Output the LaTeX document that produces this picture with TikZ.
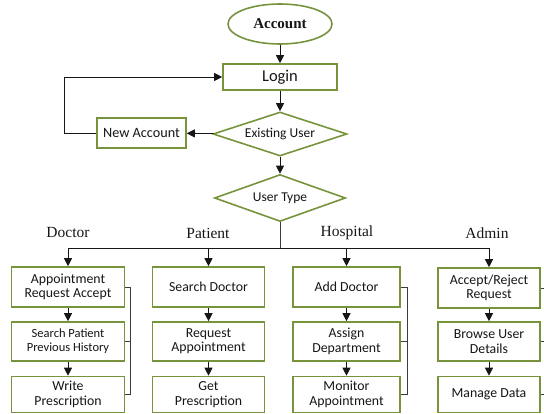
\documentclass[tikz,border=0pt]{standalone}
\usepackage{fontspec}
\setmainfont{Carlito}
\newfontfamily\serifface{Liberation Serif}
\usetikzlibrary{shapes.geometric,arrows.meta}
\definecolor{boxgreen}{RGB}{119,147,60}
\definecolor{inkgray}{RGB}{22,22,22}
\definecolor{wiregray}{RGB}{60,60,60}
\begin{document}
\begin{tikzpicture}[x=1pt,y=-1pt,
  font=\fontsize{13.8}{14.3}\selectfont, text=inkgray,
  box/.style={draw=boxgreen, line width=1.6pt, fill=white, rectangle,
    inner sep=1pt, align=center},
  decision/.style={draw=boxgreen, line width=1.6pt, fill=white, diamond,
    aspect=3, inner sep=0pt, align=center},
  flow/.style={draw=inkgray, line width=0.8pt,
    -{Triangle[length=8pt,width=8pt]}},
  wire/.style={draw=wiregray, line width=0.7pt},
  rolename/.style={font=\serifface\fontsize{15.5}{17}\selectfont, text=inkgray},
  col/.style={box, minimum width=#1},
  rowA/.style={minimum height=40pt},
  rowB/.style={minimum height=39pt},
  rowC/.style={minimum height=36pt}]
\useasboundingbox (0,0) rectangle (544,414);

% top of the flow: account, login and the two decisions
\node[ellipse, draw=boxgreen, line width=1.6pt, minimum width=104pt,
  minimum height=40pt, inner sep=0pt,
  font=\serifface\bfseries\fontsize{15}{17}\selectfont] (acc) at (280,24) {Account};
\node[box, minimum width=114pt, minimum height=26pt,
  font=\fontsize{16.5}{18}\selectfont] (login) at (280,77) {Login};
\node[decision, minimum width=134pt, minimum height=44pt,
  font=\fontsize{13.5}{15}\selectfont] (exist) at (280,134) {Existing User};
\node[box, minimum width=89pt, minimum height=30pt,
  font=\fontsize{14.2}{15}\selectfont] (newacc) at (141.5,133) {New Account};
\node[decision, minimum width=131pt, minimum height=47pt,
  font=\fontsize{13.5}{15}\selectfont] (ut) at (280,198) {User Type};

\draw[flow] (acc) -- (login);
\draw[flow] (login) -- (exist);
\draw[flow] (exist) -- (newacc);
\draw[flow] (newacc.west) -- ++(-32,0) |- (login.west);
\draw[flow] (exist) -- (ut);

% role captions
\node[rolename] (ldoc) at (68,233) {Doctor};
\node[rolename] (lpat) at (208,233) {Patient};
\node[rolename] (lhos) at (347,233) {Hospital};
\node[rolename] (ladm) at (487,233) {Admin};

% doctor column
\node[col=113pt, rowA] (d1) at (68,287) {Appointment\\Request Accept};
\node[col=113pt, rowB, font=\fontsize{12.5}{14}\selectfont] (d2) at (68,341.5) {Search Patient\\Previous History};
\node[col=113pt, rowC] (d3) at (68,394.5) {Write\\Prescription};
% patient column
\node[col=112pt, rowA] (p1) at (208.5,287) {Search Doctor};
\node[col=112pt, rowB] (p2) at (208.5,341.5) {Request\\Appointment};
\node[col=112pt, rowC] (p3) at (208.5,394.5) {Get\\Prescription};
% hospital column
\node[col=107pt, rowA] (h1) at (346.5,287) {Add Doctor};
\node[col=107pt, rowB] (h2) at (346.5,341.5) {Assign\\Department};
\node[col=107pt, rowC] (h3) at (346.5,394.5) {Monitor\\Appointment};
% admin column
\node[col=102pt, rowA] (a1) at (489,288) {Accept/Reject\\Request};
\node[col=102pt, rowB] (a2) at (489,341.5) {Browse User\\Details};
\node[col=102pt, rowC] (a3) at (489,394.5) {Manage Data};

% fan-out from the user type decision
\path (ut.south) ++(0,26) coordinate (hub);
\draw[wire] (ut.south) -- (hub);
\draw[flow] (hub) -| (d1.north);
\draw[flow] (hub) -| (a1.north);
\draw[flow] (hub -| p1.north) -- (p1.north);
\draw[flow] (hub -| h1.north) -- (h1.north);

% arrows inside the columns
\foreach \c in {d,p,h,a}{
  \draw[flow] (\c1) -- (\c2);
  \draw[flow] (\c2) -- (\c3);
}

% side brackets
\draw[wire] (d1.east) -- ++(5,0) |- (d3.east);
\draw[wire] (d2.east) -- ++(5,0);
\draw[wire] (h1.east) -- ++(7,0) |- (h3.east);
\draw[wire] (h2.east) -- ++(7,0);
\foreach \k in {1,2,3}{
  \draw[wire] (a\k.east) -- ++(6,0);
}
\end{tikzpicture}
\end{document}
